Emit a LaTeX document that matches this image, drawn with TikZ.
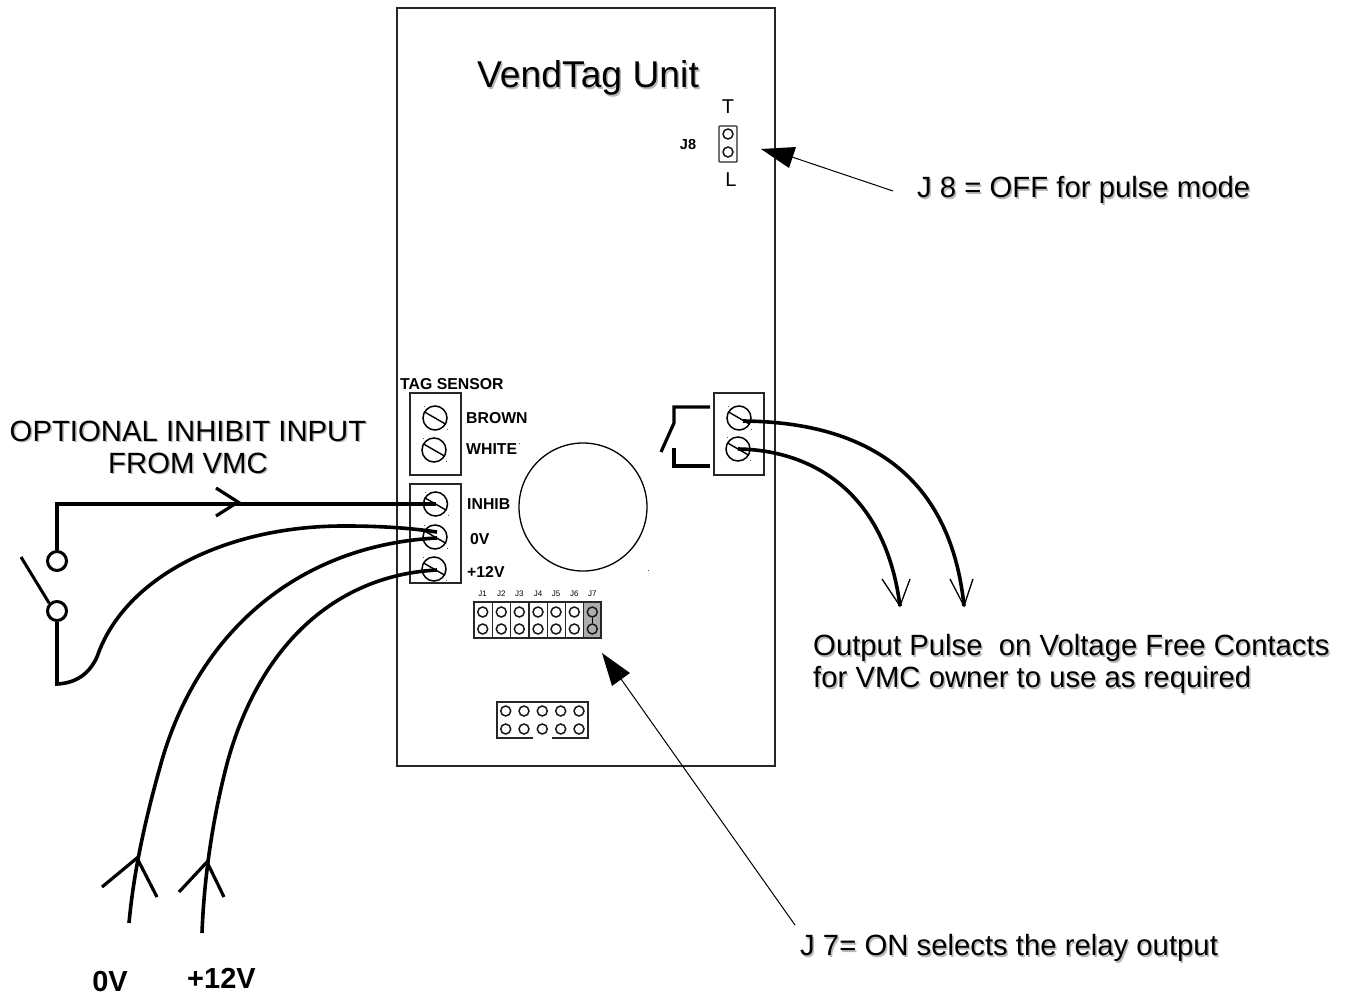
\documentclass[tikz,border=0pt]{standalone}
\usepackage{fontspec}
\setmainfont{Liberation Sans}
\definecolor{shadowgray}{gray}{0.72}
\definecolor{jumpgray}{gray}{0.68}
\newcommand{\shtext}[1]{\leavevmode\rlap{\raisebox{-1.5pt}{\kern1.5pt\textcolor{shadowgray}{#1}}}#1}
\tikzset{
  panel/.style={draw=black!85,line width=1.3pt},
  boxline/.style={draw=black!85,line width=1.4pt},
  wire/.style={draw=black,line width=3.6pt},
  thinline/.style={draw=black,line width=1pt},
  blade/.style={draw=black,line width=3.2pt},
  screw/.style={circle,draw=black,line width=1.5pt,minimum size=24pt,inner sep=0pt},
  pin/.style={circle,draw=black!90,line width=1.5pt,minimum size=10pt,inner sep=0pt},
  swpin/.style={circle,draw=black,line width=3pt,minimum size=19pt,inner sep=0pt,fill=white},
  caption/.style={inner sep=0pt,font=\fontsize{29.3}{32}\selectfont,align=center},
  lab/.style={inner sep=0pt,font=\fontsize{15.8}{18}\selectfont\bfseries},
  jlab/.style={inner sep=0pt,font=\fontsize{8}{9}\selectfont},
  solidhead/.style={fill=black,draw=none}
}
\newcommand{\screwat}[3]{%
  \node[screw] (#1) at (#2,#3) {};
  \draw[line width=1.4pt] (#1.150) -- (#1.-30);
  \fill[black!70] (#2-11,#3-12) rectangle +(1,1);
  \fill[black!70] (#2+12,#3+11) rectangle +(1,1);
}
\begin{document}
\begin{tikzpicture}[x=1pt,y=-1pt]
\useasboundingbox (0,0) rectangle (1350,996);
\fill[white] (0,0) rectangle (1350,996);

% unit outline
\node[panel,rectangle,minimum width=378pt,minimum height=758pt,inner sep=0pt] (unit) at (586,387) {};
\node[inner sep=0pt,font=\fontsize{37.3}{40}\selectfont] (title) at (588,79) {\shtext{VendTag Unit}};

% J8
\node[boxline,rectangle,rounded corners=1pt,minimum width=18pt,minimum height=36pt,inner sep=0pt] (j8box) at (728,144) {};
\node[pin] (j8a) at (728,134) {};
\node[pin] (j8b) at (728,152) {};
\node[inner sep=0pt,font=\fontsize{20}{22}\selectfont] (jt) at (728,107) {T};
\node[inner sep=0pt,font=\fontsize{20}{22}\selectfont] (jl) at (731,180) {L};
\node[inner sep=0pt,font=\fontsize{14.5}{16}\selectfont\bfseries] (j8l) at (688,145) {J8};

% terminal blocks
\node[boxline,rectangle,minimum width=51pt,minimum height=82pt,inner sep=0pt] (tagblock) at (435.5,434) {};
\node[boxline,rectangle,minimum width=51pt,minimum height=99pt,inner sep=0pt] (pwrblock) at (435.5,533.5) {};
\node[boxline,rectangle,minimum width=50pt,minimum height=82pt,inner sep=0pt] (relblock) at (739,434) {};
\screwat{sbrown}{435}{418}
\screwat{swhite}{434}{450}
\screwat{sinhib}{435.5}{504}
\screwat{szero}{435}{537}
\screwat{stwelve}{434}{569}
\screwat{rone}{739}{418}
\screwat{rtwo}{738}{449}

\node[lab,anchor=west] (tagl) at (400,384) {TAG SENSOR};
\node[lab,anchor=west] (brownl) at (466,418) {BROWN};
\node[lab,anchor=west] (whitel) at (466,449.5) {WHITE};
\node[lab,anchor=west] (inhibl) at (467,504) {INHIB};
\node[lab,anchor=west] (zerol) at (470,539) {0V};
\node[lab,anchor=west] (twelvel) at (467,571.5) {+12V};

% big circle
\node[circle,draw=black,line width=1.3pt,minimum size=128pt,inner sep=0pt] (bigc) at (583,507) {};
\fill[black!70] (519,443) rectangle +(1,1);
\fill[black!70] (648,570) rectangle +(1,1);

% relay symbol
\coordinate (relA) at (710,407);
\coordinate (relB) at (674,423);
\coordinate (relC) at (661,452);
\coordinate (relD) at (674,448);
\coordinate (relE) at (710,466);
\draw[blade,line join=miter] (relA) -| (relB) -- (relC);
\draw[blade,line join=miter] (relD) |- (relE);

% jumper header J1..J7
\fill[jumpgray] (583.3,602) rectangle (601,638);
\node[boxline,rectangle,minimum width=127pt,minimum height=36pt,inner sep=0pt] (jhead) at (537.5,620) {};
\foreach \xx in {492.3,510.7,529,547.3,565.3,583.3}{\draw[boxline] (\xx,602) -- (\xx,638);}
\foreach \nm/\xx in {1/482.7,2/501.3,3/519.3,4/538,5/556,6/574.3,7/592.3}{
  \node[pin] (pa\nm) at (\xx,612) {};
  \node[pin] (pb\nm) at (\xx,629) {};
  \node[jlab] (jl\nm) at (\xx,593.5) {J\nm};
}
\draw[line width=1.5pt] (pa7) -- (pb7);

% lower header
\coordinate (lhA) at (533,738);
\coordinate (lhB) at (552,738);
\draw[boxline] (lhA) -- (497,738) -- (497,702) -- (588,702) -- (588,738) -- (lhB);
\foreach \nm/\xx in {1/505.7,2/524,3/542.3,4/560.7,5/579}{
  \node[pin] (qa\nm) at (\xx,711) {};
  \node[pin] (qb\nm) at (\xx,729) {};
}

% switch
\node[swpin] (swa) at (57,561) {};
\node[swpin] (swb) at (57,611) {};
\coordinate (bladeEnd) at (21,557);
\draw[line width=3pt] (swb.135) -- (bladeEnd);
\draw[wire,line join=miter] (swa.north) |- (sinhib.center);
\coordinate (swcorner) at (57,684);
\coordinate (swmidA) at (97,657);
\coordinate (swmidB) at (347,526);
\coordinate (zeroA) at (437,532);
\coordinate (zeroB) at (437,538);
\coordinate (twelveE) at (437,570);
\draw[wire] (swb.south) -- (swcorner) .. controls (78,683) and (90,672) .. (swmidA)
  .. controls (125,575) and (230,525) .. (swmidB)
  .. controls (380,526) and (410,528) .. (zeroA);

% inhibit chevron
\coordinate (inT) at (238,502);
\draw[blade,line join=miter] (216,488) -- (inT) -- (216,516);

% supply wires
\coordinate (zeroF) at (129,923);
\coordinate (zeroM) at (162,760);
\coordinate (twelveF) at (202,933);
\coordinate (twelveM) at (228,760);
\draw[wire] (zeroF) .. controls (133,880) and (142,830) .. (zeroM)
  .. controls (200,630) and (300,545) .. (zeroB);
\draw[wire] (twelveF) .. controls (204,880) and (212,820) .. (twelveM)
  .. controls (262,640) and (340,575) .. (twelveE);
\coordinate (zeroT) at (137,858);
\coordinate (twelveT) at (207,862);
\draw[blade,line join=miter] (102,887) -- (zeroT) -- (157,897);
\draw[blade,line join=miter] (179,892) -- (twelveT) -- (224,897);
\node[inner sep=0pt,font=\fontsize{29}{32}\selectfont\bfseries] (zerob) at (110,982) {0V};
\node[inner sep=0pt,font=\fontsize{29}{32}\selectfont\bfseries] (twelveb) at (221.5,978) {+12V};

% output wires
\coordinate (outA) at (964,606);
\coordinate (outB) at (900,606);
\draw[wire] (rone.center) ++(4,3) .. controls (860,422) and (950,470) .. (outA);
\draw[wire] (rtwo.center) .. controls (810,450) and (885,490) .. (outB);
\draw[thinline,line width=1.3pt] (950,579) -- (outA) -- (973,579);
\draw[thinline,line width=1.3pt] (882,579) -- (outB) -- (910,579);

% pointer arrows
\coordinate (ptrJ8) at (893,191);
\coordinate (ptrJ8h) at (792,157);
\fill[solidhead] (761,149) -- (796,147) -- (789,168) -- cycle;
\draw[thinline] (ptrJ8) -- (ptrJ8h);
\coordinate (ptrJ7) at (795,925);
\coordinate (ptrJ7h) at (621,679);
\fill[solidhead] (602,653) -- (630,673) -- (612,686) -- cycle;
\draw[thinline] (ptrJ7) -- (ptrJ7h);

% captions
\node[caption,align=center] (inl) at (188,448) {\shtext{OPTIONAL INHIBIT INPUT}\\\shtext{FROM VMC}};
\node[caption,anchor=west] (j8cap) at (917,191) {\shtext{J 8 = OFF for pulse mode}};
\node[caption,anchor=west] (outcap1) at (813,649) {\shtext{Output Pulse\ \ on Voltage Free Contacts}};
\node[caption,anchor=west] (outcap2) at (813,681) {\shtext{for VMC owner to use as required}};
\node[caption,anchor=west] (j7cap) at (800,949) {\shtext{J 7= ON selects the relay output}};
\end{tikzpicture}
\end{document}
